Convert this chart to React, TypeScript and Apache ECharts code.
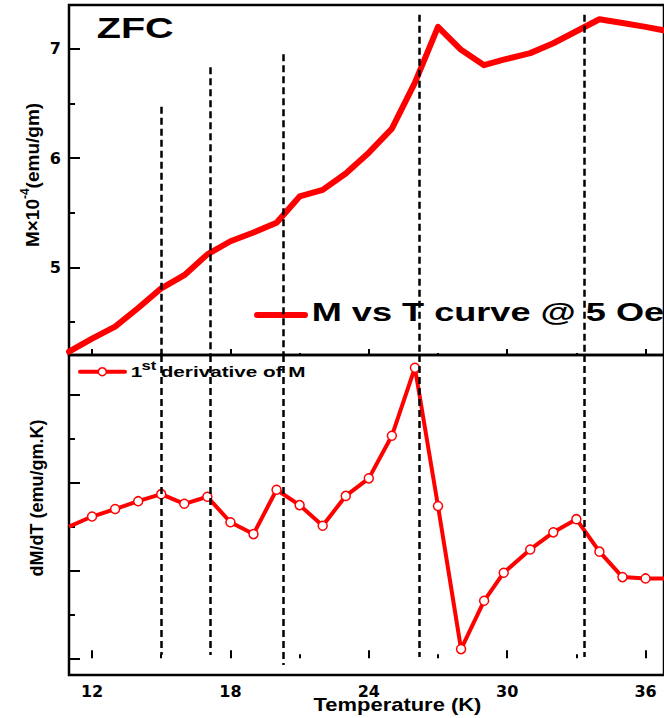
import React, { useEffect, useRef } from "react";
import * as echarts from "echarts";

// Temperature (K) of each measured point
const temperatures = [11, 12, 13, 14, 15, 16, 17, 18, 19, 20, 21, 22, 23, 24, 25, 26, 27, 28, 29, 29.85, 31, 32, 33, 34, 35, 36, 37];
// M x 10^-4 (emu/gm), ZFC curve
const magnetization = [4.23, 4.35, 4.46, 4.63, 4.81, 4.93, 5.12, 5.24, 5.32, 5.41, 5.65, 5.71, 5.86, 6.05, 6.27, 6.69, 7.20, 6.99, 6.85, 6.90, 6.96, 7.05, 7.16, 7.27, 7.235, 7.20, 7.16];
// dM/dT (arbitrary units)
const derivative = [3.0, 3.23, 3.40, 3.58, 3.74, 3.52, 3.68, 3.10, 2.83, 3.84, 3.49, 3.02, 3.70, 4.10, 5.07, 6.62, 3.47, 0.21, 1.31, 1.95, 2.48, 2.87, 3.17, 2.43, 1.85, 1.82, 1.82];

const xMajorTicks = [12, 18, 24, 30, 36];
const xMinorTicks = [15, 21, 27, 33];
const mMajorTicks = [5, 6, 7];
const mMinorTicks = [4.5, 5.5, 6.5];
const dMajorTicks = [0, 2, 4, 6];
const dMinorTicks = [1, 3, 5];

// dashed transition markers
const transitionTemps = [15.02, 17.12, 20.3, 26.17, 33.35];
const transitionTopM = [6.47, 6.83, 6.95, 7.31, 7.31];
const transitionBottomEnd = [0.075, 0.075, -0.15, 0.03, 0.03];

const X_MIN = 11;
const X_MAX = 36.8;
const M_MIN = 4.2;
const M_MAX = 7.4;
const D_MIN = -0.38;
const D_MAX = 6.91;

const ARIAL = '"Liberation Sans", Arial, sans-serif';
const DEJAVU = '"DejaVu Sans", sans-serif';
const RED = "#ff0000";

export default function App() {
  const ref = useRef<HTMLDivElement>(null);
  useEffect(() => {
    if (!ref.current) return;
    const chart = echarts.init(ref.current, null, { renderer: "svg" });

    const tickLabel = { fontFamily: DEJAVU, fontWeight: "bold" as const, fontSize: 16, color: "#000" };

    const xAxisBase = (grid: number, min: boolean, tickLen: number, values: number[], labels: boolean) => ({
      type: "value" as const,
      gridIndex: grid,
      position: "bottom" as const,
      min: X_MIN,
      max: X_MAX,
      axisLine: { show: false },
      splitLine: { show: false },
      axisTick: { show: true, inside: true, length: tickLen, customValues: values, lineStyle: { color: "#000", width: 2 } },
      axisLabel: labels
        ? { show: true, customValues: values, margin: 8, ...tickLabel }
        : { show: false },
      z: min ? 3 : 4,
    });

    const yAxisBase = (grid: number, lo: number, hi: number, tickLen: number, values: number[], labels: boolean) => ({
      type: "value" as const,
      gridIndex: grid,
      position: "left" as const,
      min: lo,
      max: hi,
      axisLine: { show: false },
      splitLine: { show: false },
      axisTick: { show: true, inside: true, length: tickLen, customValues: values, lineStyle: { color: "#000", width: 2 } },
      axisLabel: labels
        ? { show: true, customValues: values, margin: 8, ...tickLabel }
        : { show: false },
    });

    const dash = { type: [7, 4] as number[], color: "#000", width: 2.5, opacity: 1 };

    const topMarks = transitionTemps.map((t, i) => [
      { coord: [t, transitionTopM[i]], lineStyle: dash },
      { coord: [t, M_MIN] },
    ]);
    const bottomMarks = transitionTemps.map((t, i) => [
      { coord: [t, D_MAX], lineStyle: dash },
      { coord: [t, transitionBottomEnd[i]] },
    ]);

    const derivData = temperatures.map((t, i) =>
      i === 0 ? { value: [t, derivative[i]], symbol: "none" } : { value: [t, derivative[i]] }
    );

    chart.setOption({
      animation: false,
      backgroundColor: "#fff",
      grid: [
        { left: 69, top: 5, width: 597, height: 350, show: true, borderColor: "#000", borderWidth: 2.5, backgroundColor: "transparent" },
        { left: 69, top: 355, width: 597, height: 320, show: true, borderColor: "#000", borderWidth: 2.5, backgroundColor: "transparent" },
      ],
      xAxis: [
        xAxisBase(0, false, 6, xMajorTicks, false),
        xAxisBase(0, true, 2, xMinorTicks, false),
        xAxisBase(1, false, 8, xMajorTicks, true),
        xAxisBase(1, true, 4, xMinorTicks, false),
      ],
      yAxis: [
        yAxisBase(0, M_MIN, M_MAX, 11, mMajorTicks, true),
        yAxisBase(0, M_MIN, M_MAX, 6, mMinorTicks, false),
        yAxisBase(1, D_MIN, D_MAX, 11, dMajorTicks, false),
        yAxisBase(1, D_MIN, D_MAX, 6, dMinorTicks, false),
      ],
      series: [
        {
          name: "M vs T curve @ 5 Oe",
          type: "line",
          xAxisIndex: 0,
          yAxisIndex: 0,
          data: temperatures.map((t, i) => [t, magnetization[i]]),
          showSymbol: false,
          symbol: "none",
          lineStyle: { color: RED, width: 6, cap: "round", join: "round" },
          clip: true,
          silent: true,
          markLine: {
            silent: true,
            symbol: ["none", "none"],
            label: { show: false },
            lineStyle: dash,
            emphasis: { disabled: true },
            data: topMarks,
          },
        },
        {
          name: "1st derivative of M",
          type: "line",
          xAxisIndex: 2,
          yAxisIndex: 2,
          data: derivData,
          symbol: "circle",
          symbolSize: 9,
          showAllSymbol: true,
          itemStyle: { color: "#fff", borderColor: RED, borderWidth: 1.5 },
          lineStyle: { color: RED, width: 4, join: "round" },
          clip: true,
          silent: true,
          markLine: {
            silent: true,
            symbol: ["none", "none"],
            label: { show: false },
            lineStyle: dash,
            emphasis: { disabled: true },
            data: bottomMarks,
          },
        },
      ],
      graphic: [
        {
          type: "text", x: 96.7, y: 27.5, scaleX: 1.32,
          style: { text: "ZFC", fontFamily: ARIAL, fontWeight: "bold", fontSize: 30, fill: "#000", align: "left", verticalAlign: "middle" },
        },
        {
          type: "line", shape: { x1: 257, y1: 315, x2: 305, y2: 315 },
          style: { stroke: RED, lineWidth: 6, lineCap: "round" },
        },
        {
          type: "text", x: 311.7, y: 312.5, scaleX: 1.39,
          style: { text: "M vs T curve @ 5 Oe", fontFamily: ARIAL, fontWeight: "bold", fontSize: 26, fill: "#000", align: "left", verticalAlign: "middle" },
        },
        {
          type: "line", shape: { x1: 80, y1: 371.7, x2: 125, y2: 371.7 },
          style: { stroke: RED, lineWidth: 4, lineCap: "round" },
        },
        {
          type: "circle", shape: { cx: 102.3, cy: 371.7, r: 4 },
          style: { fill: "#fff", stroke: RED, lineWidth: 1.5 },
        },
        {
          type: "text", x: 130.7, y: 372, scaleX: 1.38,
          style: { text: "1", fontFamily: ARIAL, fontWeight: "bold", fontSize: 15, fill: "#000", align: "left", verticalAlign: "middle" },
        },
        {
          type: "text", x: 141.5, y: 365.5, scaleX: 1.38,
          style: { text: "st", fontFamily: ARIAL, fontWeight: "bold", fontSize: 12, fill: "#000", align: "left", verticalAlign: "middle" },
        },
        {
          type: "text", x: 160.7, y: 372, scaleX: 1.38,
          style: { text: "derivative of M", fontFamily: ARIAL, fontWeight: "bold", fontSize: 15, fill: "#000", align: "left", verticalAlign: "middle" },
        },
        {
          type: "text", x: 32, y: 175, rotation: Math.PI / 2,
          style: {
            text: "{a|M×10}{s|-4}{a|(emu/gm)}",
            align: "center",
            verticalAlign: "middle",
            fill: "#000",
            fontFamily: ARIAL,
            fontWeight: "bold",
            fontSize: 19,
            rich: {
              a: { fontFamily: ARIAL, fontWeight: "bold", fontSize: 19, lineHeight: 26, fill: "#000" },
              s: { fontFamily: ARIAL, fontWeight: "bold", fontSize: 12, lineHeight: 12, verticalAlign: "top", fill: "#000" },
            },
          },
        },
        {
          type: "text", x: 37, y: 498, rotation: Math.PI / 2,
          style: { text: "dM/dT (emu/gm.K)", fontFamily: ARIAL, fontWeight: "bold", fontSize: 18, fill: "#000", align: "center", verticalAlign: "middle" },
        },
        {
          type: "text", x: 397.5, y: 704.5, scaleX: 1.22,
          style: { text: "Temperature (K)", fontFamily: ARIAL, fontWeight: "bold", fontSize: 18, fill: "#000", align: "center", verticalAlign: "middle" },
        },
      ],
    });

    return () => chart.dispose();
  }, []);

  return (
    <div
      ref={ref}
      style={{ position: "absolute", left: 0, top: 0, width: 664, height: 718, background: "#fff" }}
    />
  );
}
